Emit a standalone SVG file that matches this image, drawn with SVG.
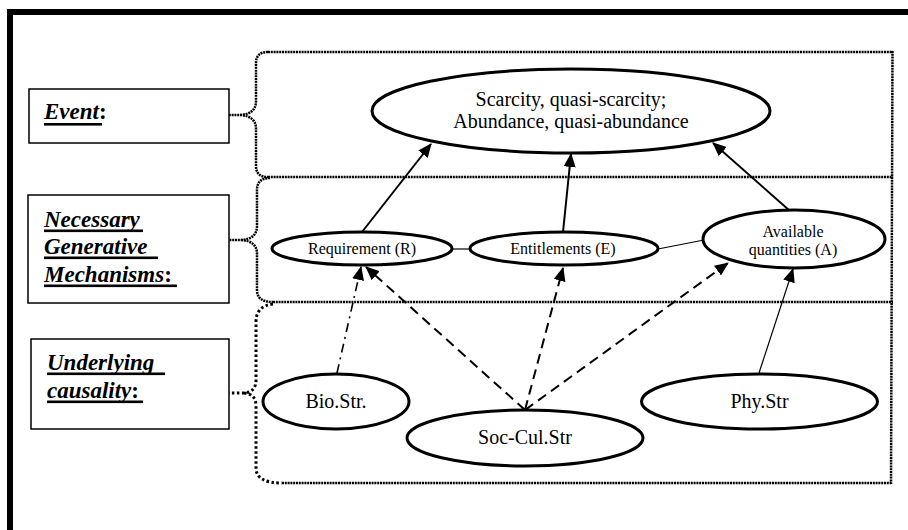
<svg xmlns="http://www.w3.org/2000/svg" width="908" height="530" viewBox="0 0 908 530">
<style>
.frame{fill:none;stroke:#000;stroke-width:6;stroke-linejoin:miter}
.lbox{fill:#fff;stroke:#000;stroke-width:1.5}
.lab{font-family:'Liberation Serif','DejaVu Serif',serif;font-weight:bold;font-style:italic;font-size:23px;fill:#000}
.colon{font-style:normal}
.ul{fill:#000}
.fine{fill:none;stroke:#000;stroke-width:2.5;stroke-dasharray:2 0.8}
.coarse{fill:none;stroke:#000;stroke-width:3;stroke-dasharray:2.5 2.5}
.node{fill:#fff;stroke:#000;stroke-width:3}
.t{font-family:'Liberation Serif','DejaVu Serif',serif;fill:#000;text-anchor:middle}
.t20{font-size:20px}
.t16{font-size:16px}
.solid{fill:none;stroke:#000;stroke-width:2}
.thin{fill:none;stroke:#000;stroke-width:1.2}
.dash{fill:none;stroke:#000;stroke-width:2;stroke-dasharray:10 6}
.dashdot{fill:none;stroke:#000;stroke-width:1.6;stroke-dasharray:9 5 2 5}
</style>
<defs>
<marker id="ah" markerUnits="userSpaceOnUse" markerWidth="14" markerHeight="12" viewBox="0 0 14 12" refX="13" refY="6" orient="auto">
<path d="M0,0 L14,6 L0,12 Z" fill="#000"/>
</marker>
</defs>
<rect width="908" height="530" fill="#fff"/>
<path class="frame" d="M10,530 L10,12 L908,12"/>

<g id="sections">
<path class="fine" d="M268,52 L893,52 M268,177 L893,177 M273,302 L893,302 M282,483 L891,483 M892.5,51 L891,484"/>
<path id="brace-event" class="fine" d="M268,52 Q256,52 256,63 L256,101 Q256,114 240,115 L229,115 M240,115 Q256,116 256,129 L256,166 Q256,177 268,177"/>
<path id="brace-ngm" class="fine" d="M270,178 Q257,178 257,190 L257,226 Q257,239 241,240 L229,240 M241,240 Q257,241 257,254 L257,290 Q257,302 273,302"/>
<path id="brace-under" class="coarse" d="M273,304 Q256,306 256,322 L256,380 Q256,392 244,393 L229,393 M244,393 Q256,394 256,406 L256,468 Q256,483 282,483"/>
</g>

<g id="label-event">
<rect class="lbox" x="29" y="89" width="200" height="54"/>
<text class="lab" x="44" y="119">Event<tspan class="colon">:</tspan></text>
<rect class="ul" x="44" y="123" width="58" height="2.6"/>
</g>
<g id="label-ngm">
<rect class="lbox" x="28" y="195" width="201" height="108"/>
<text class="lab" x="44" y="227">Necessary</text>
<text class="lab" x="44" y="254">Generative </text>
<text class="lab" x="44" y="282">Mechanisms<tspan class="colon">:</tspan></text>
<rect class="ul" x="44" y="229.5" width="99" height="2.6"/>
<rect class="ul" x="44" y="256.5" width="114" height="2.6"/>
<rect class="ul" x="44" y="284.5" width="133" height="2.6"/>
</g>
<g id="label-under">
<rect class="lbox" x="31" y="339" width="198" height="90"/>
<text class="lab" x="47" y="370">Underlying </text>
<text class="lab" x="47" y="398">causality<tspan class="colon">:</tspan></text>
<rect class="ul" x="47" y="372.5" width="118" height="2.6"/>
<rect class="ul" x="47" y="400.5" width="96" height="2.6"/>
</g>

<g id="connectors">
<line class="thin" x1="452" y1="249" x2="470" y2="249"/>
<line class="thin" x1="658" y1="249" x2="704" y2="240"/>
<line class="solid" x1="362" y1="232" x2="431" y2="144" marker-end="url(#ah)"/>
<line class="solid" x1="563" y1="232" x2="571" y2="154" marker-end="url(#ah)"/>
<line class="solid" x1="790" y1="211" x2="713" y2="143" marker-end="url(#ah)"/>
<line class="dashdot" x1="337" y1="373" x2="361" y2="267" marker-end="url(#ah)"/>
<line class="dash" x1="525" y1="410" x2="366" y2="267" marker-end="url(#ah)"/>
<line class="dash" x1="525" y1="410" x2="563" y2="268" marker-end="url(#ah)"/>
<line class="dash" x1="525" y1="410" x2="728" y2="263" marker-end="url(#ah)"/>
<line class="thin" x1="759" y1="373" x2="793" y2="269" marker-end="url(#ah)"/>
</g>

<g id="node-scarcity">
<ellipse class="node" cx="571" cy="111" rx="199" ry="42"/>
<text class="t t20" x="571" y="106">Scarcity, quasi-scarcity;</text>
<text class="t t20" x="571" y="128">Abundance, quasi-abundance</text>
</g>
<g id="node-requirement">
<ellipse class="node" cx="362" cy="248.5" rx="90" ry="16.5"/>
<text class="t t16" x="362" y="254">Requirement (R)</text>
</g>
<g id="node-entitlements">
<ellipse class="node" cx="564" cy="248.5" rx="94" ry="16.5"/>
<text class="t t16" x="563" y="254">Entitlements (E)</text>
</g>
<g id="node-available">
<ellipse class="node" cx="794" cy="239" rx="91" ry="29"/>
<text class="t t16" x="793" y="237">Available</text>
<text class="t t16" x="793" y="255">quantities (A)</text>
</g>
<g id="node-bio">
<ellipse class="node" cx="336" cy="401.5" rx="73" ry="27.5"/>
<text class="t t20" x="336" y="408">Bio.Str.</text>
</g>
<g id="node-soccul">
<ellipse class="node" cx="525" cy="438" rx="118" ry="28"/>
<text class="t t20" x="525" y="444">Soc-Cul.Str</text>
</g>
<g id="node-phy">
<ellipse class="node" cx="759.5" cy="401.5" rx="118" ry="27.5"/>
<text class="t t20" x="759.5" y="408">Phy.Str</text>
</g>
</svg>
